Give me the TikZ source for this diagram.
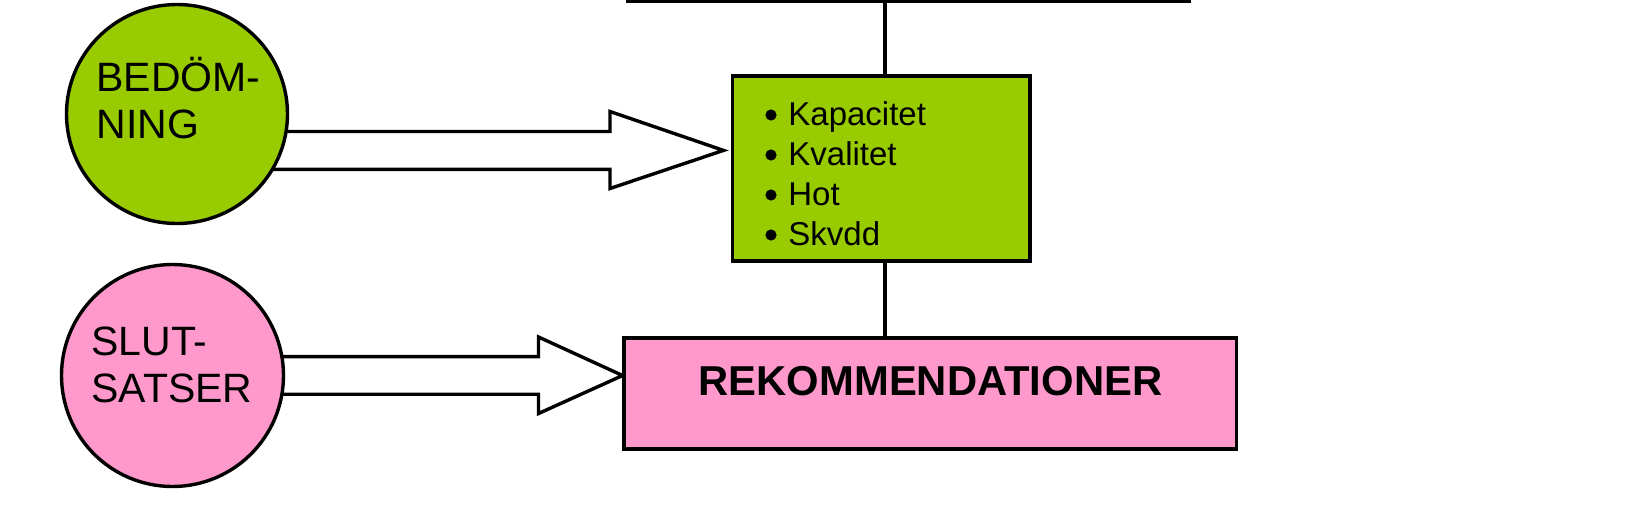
\documentclass[tikz,border=0pt]{standalone}
\usepackage{fontspec}
\setmainfont{Liberation Sans}
\usetikzlibrary{shapes.geometric,backgrounds}
\definecolor{lgreen}{HTML}{99CC00}
\definecolor{lpink}{HTML}{FF99CC}
\tikzset{
  lw/.style={line width=1.7pt},
  bubble/.style={ellipse, draw, lw, inner sep=0pt},
  boxnode/.style={rectangle, draw, lw, inner sep=0pt},
  blockarr/.style={draw, lw, fill=white, line join=miter},
  conn/.style={draw, lw},
  bigtxt/.style={inner sep=0pt, anchor=base west, font=\fontsize{20.5}{23}\selectfont},
  itemtxt/.style={inner sep=0pt, anchor=base west, font=\fontsize{16.5}{20}\selectfont},
  bul/.style={fill=black},
}
\begin{document}
\begin{tikzpicture}[x=0.5pt,y=-0.5pt]
\useasboundingbox (0,0) rectangle (1649,505);
% shapes
\node[bubble, fill=lgreen, minimum width=110.5pt, minimum height=109.5pt] (bed) at (177,114) {};
\node[bubble, fill=lpink, minimum width=111pt, minimum height=111pt] (slut) at (172.5,375.5) {};
\node[boxnode, fill=lgreen, minimum width=148.75pt, minimum height=92.5pt] (grn) at (881.25,168.5) {};
\node[boxnode, fill=lpink, minimum width=306.25pt, minimum height=55.5pt] (pnk) at (930.25,393.5) {};
% texts
\node[bigtxt] (b1) at (96,91.7) {BEDÖM-};
\node[bigtxt] (b2) at (96,138.3) {NING};
\node[bigtxt] (s1) at (91,355) {SLUT-};
\node[bigtxt] (s2) at (91,402) {SATSER};
\node[inner sep=0pt, anchor=base, font=\bfseries\fontsize{20.9}{24}\selectfont] (rek) at (930.5,395) {REKOMMENDATIONER};
\node[itemtxt] (k1) at (788,125) {Kapacitet};
\node[itemtxt] (k2) at (788,165) {Kvalitet};
\node[itemtxt] (k3) at (788,205) {Hot};
\node[itemtxt] (k4) at (788,245) {Skvdd};
\foreach \yy in {115,155,195,235} \fill[bul] (771,\yy) circle[radius=2.8pt];
% connectors
\coordinate (tl) at (626,1);
\coordinate (tr) at (1190.5,1);
\coordinate (j) at (885,1);
\coordinate (t1) at (723.5,150.4);
\coordinate (t2) at (622.6,375.5);
\draw[conn] (tl) -- (tr);
\draw[conn] (j) -- (j |- grn.north);
\draw[conn] (grn.south -| j) -- (pnk.north -| j);
\begin{scope}[on background layer]
\draw[blockarr] (bed.center |- 0,131.5) -- (610,131.5) -- (610,111.5) -- (t1)
  -- (610,188.5) -- (610,169.3) -- (bed.center |- 0,169.3) -- cycle;
\draw[blockarr] (slut.center |- 0,356.6) -- (538.5,356.6) -- (538.5,337) -- (t2)
  -- (538.5,413.5) -- (538.5,394.2) -- (slut.center |- 0,394.2) -- cycle;
\end{scope}
\end{tikzpicture}
\end{document}
